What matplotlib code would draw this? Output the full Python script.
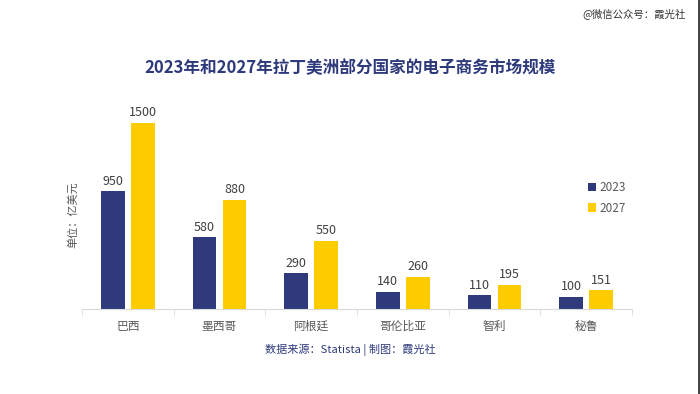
import matplotlib
matplotlib.use('Agg')
import matplotlib.pyplot as plt
import numpy as np

plt.rcParams['font.family'] = ['Noto Sans CJK SC', 'DejaVu Sans']

countries = ['巴西', '墨西哥', '阿根廷', '哥伦比亚', '智利', '秘鲁']
v2023 = [950, 580, 290, 140, 110, 100]
v2027 = [1500, 880, 550, 260, 195, 151]
years = ['2023', '2027']

navy = '#2e3a7c'
yellow = '#ffcc00'
grey = '#595959'

fig = plt.figure(figsize=(7, 3.94), dpi=100)
ax = fig.add_axes([82/700, 1 - 309/394, 550/700, (309 - 98)/394])

x = np.arange(len(countries))
w = 0.26
off = 0.164
b1 = ax.bar(x - off, v2023, w, color=navy, label=years[0])
b2 = ax.bar(x + off, v2027, w, color=yellow, label=years[1])

for bars in (b1, b2):
    for r in bars:
        ax.text(r.get_x() + r.get_width()/2, r.get_height() + 28, f'{int(r.get_height())}',
                ha='center', va='bottom', fontsize=9, color='#404040')

ax.set_xlim(-0.5, len(countries) - 0.5)
ax.set_ylim(0, 1700)
ax.set_yticks([])
ax.set_xticks(x)
ax.set_xticklabels(countries, fontsize=8.5, color=grey)
ax.set_xticks(np.arange(-0.5, len(countries), 1), minor=True)
ax.tick_params(axis='x', which='major', length=0, pad=8)
ax.tick_params(axis='x', which='minor', length=4, color='#d9d9d9')
for s in ['top', 'right', 'left']:
    ax.spines[s].set_visible(False)
ax.spines['bottom'].set_color('#d9d9d9')

ax.legend(loc='upper left', bbox_to_anchor=((588 - 82)/550, 1 - (181 - 98)/211),
          frameon=False, fontsize=8.5, handlelength=0.7, handleheight=0.7,
          handletextpad=0.3, labelspacing=0.65, borderaxespad=0, borderpad=0,
          labelcolor=grey)

fig.text(73/700, 1 - 215/394, '单位：亿美元', rotation=90, ha='center', va='center',
         fontsize=8, color=grey)
fig.text(350/700, 1 - 68/394, '2023年和2027年拉丁美洲部分国家的电子商务市场规模',
         ha='center', va='center', fontsize=12, fontweight='bold', color=navy)
fig.text(350/700, 1 - 350/394, '数据来源：Statista | 制图：霞光社',
         ha='center', va='center', fontsize=8, fontweight='medium', color=navy)
fig.text(686/700, 1 - 14/394, '@微信公众号：霞光社', ha='right', va='center',
         fontsize=7.5, color='#333333')
fig.add_artist(plt.Line2D([699/700, 699/700], [0, 1], color='#222222', lw=1.2,
                          transform=fig.transFigure))

fig.savefig('out.png', dpi=100)
